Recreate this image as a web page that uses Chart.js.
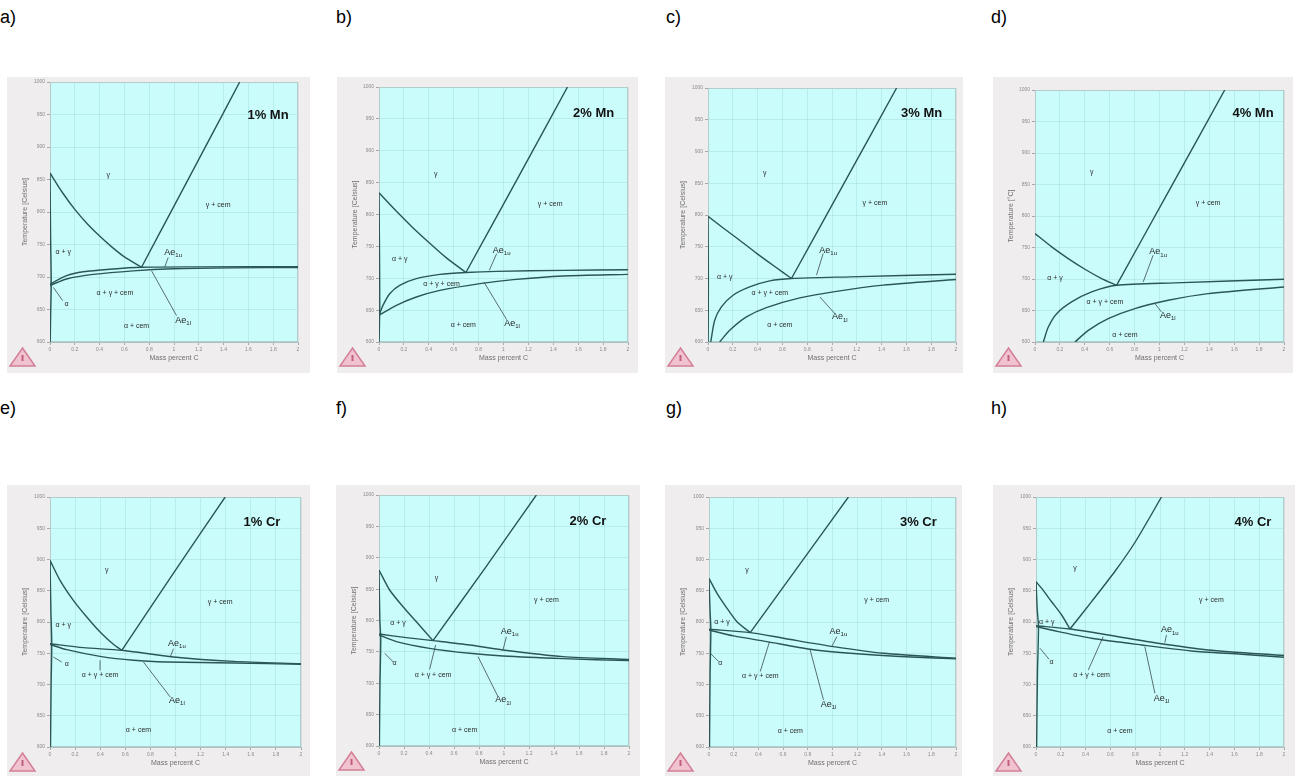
<!DOCTYPE html>
<html>
<head>
<meta charset="utf-8">
<script src="https://cdn.jsdelivr.net/npm/chart.js@4.4.1/dist/chart.umd.min.js"></script>
<style>
  body { margin: 0; width: 1301px; height: 776px; overflow: hidden; position: relative; background: #fff;
         font-family: Arial, "Liberation Sans", sans-serif; }
  .tag { position: absolute; font-size: 18px; line-height: 22px; color: #000; }
  .panel { position: absolute; background: #efeded; overflow: hidden; }
  .panel canvas { display: block; }
</style>
</head>
<body>
<script>
// ===== AXES (shared by all eight diagrams) =====
const carbonTicks = [0, 0.2, 0.4, 0.6, 0.8, 1, 1.2, 1.4, 1.6, 1.8, 2];
const tempTicks = [600, 650, 700, 750, 800, 850, 900, 950, 1000];

// ===== Fe-C-Mn, points are [mass % C, temperature] =====
const mn1A3 = [[0, 860], [0.1, 830], [0.2, 804], [0.3, 782], [0.4, 763], [0.5, 746], [0.6, 731], [0.738, 715]];
const mn1Acm = [[0.738, 715], [1.0, 809], [1.25, 899], [1.53, 1000]];
const mn1Ae1u = [[0, 689], [0.134, 702], [0.268, 708], [0.483, 712], [0.738, 715], [1.208, 715.6], [2, 716]];
const mn1Ae1 = [[0, 687], [0.134, 697], [0.349, 704], [0.671, 709.5], [0.993, 712.6], [1.477, 714.1], [2, 714.6]];
const mn1Alpha = [[0, 860], [0.005, 760], [0.01, 690], [0.005, 640], [0.002, 600]];

const mn2A3 = [[0, 834], [0.14, 805], [0.274, 779], [0.408, 755], [0.542, 732], [0.698, 709]];
const mn2Acm = [[0.698, 709], [1.106, 854], [1.514, 1000]];
const mn2Ae1u = [[0, 641.8], [0.032, 657.5], [0.086, 675.8], [0.166, 688.9], [0.3, 699.3], [0.489, 706.1], [0.698, 709], [0.945, 710.8], [1.482, 712.4], [2, 713.4]];
const mn2Ae1 = [[0, 641.8], [0.14, 657.5], [0.3, 670.6], [0.489, 681], [0.811, 691.5], [1.079, 697.8], [1.482, 703.5], [2, 706.1]];
const mn2Alpha = [[0, 834], [0.004, 740], [0.006, 660], [0.003, 620], [0.001, 600]];

const mn3A3 = [[0, 798], [0.12, 780], [0.25, 761], [0.39, 740], [0.53, 720], [0.673, 700]];
const mn3Acm = [[0.673, 700], [1.1, 851], [1.521, 1000]];
const mn3Ae1u = [[0.022, 600], [0.054, 634.2], [0.108, 655.3], [0.202, 673.7], [0.336, 686.8], [0.498, 696.3], [0.673, 700], [1.144, 702.6], [2, 706.8]];
const mn3Ae1 = [[0.094, 600], [0.175, 618.4], [0.31, 639.5], [0.471, 654.2], [0.74, 669.5], [1.01, 679], [1.413, 689.5], [2, 698.4]];
const mn3Alpha = [[0, 798], [0.003, 700], [0.001, 600]];

const mn4A3 = [[0, 772.2], [0.134, 751], [0.267, 732.4], [0.401, 715.5], [0.535, 700.7], [0.655, 690]];
const mn4Acm = [[0.655, 690], [1.09, 845], [1.524, 1000]];
const mn4Ae1u = [[0.067, 600], [0.107, 623.8], [0.174, 645], [0.294, 663.6], [0.455, 679.5], [0.655, 690], [1.123, 693.8], [2, 699.6]];
const mn4Ae1 = [[0.321, 600], [0.428, 618.5], [0.588, 637], [0.802, 653], [1.07, 666.2], [1.39, 676.8], [2, 687.4]];

// ===== Fe-C-Cr =====
const cr1A3 = [[0, 898.7], [0.08, 866.7], [0.186, 834.7], [0.293, 808], [0.399, 784], [0.505, 764.3], [0.572, 754.7]];
const cr1Acm = [[0.572, 754.7], [0.98, 877], [1.396, 1000]];
const cr1Ae1u = [[0, 765.3], [0.266, 759], [0.572, 754.7], [0.984, 744], [1.463, 737], [2, 733.3]];
const cr1Ae1 = [[0, 764], [0.133, 755.7], [0.399, 745], [0.665, 738.7], [0.93, 736], [1.463, 734.4], [2, 732.3]];
const cr1Alpha = [[0, 898.7], [0.007, 820], [0.014, 765], [0.009, 700], [0.004, 600]];

const cr2A3 = [[0, 880.5], [0.085, 848.6], [0.192, 822], [0.299, 798], [0.432, 767.9]];
const cr2Acm = [[0.432, 767.9], [0.85, 884], [1.259, 1000]];
const cr2Ae1u = [[0, 778.5], [0.219, 772.7], [0.432, 767.9], [0.725, 761], [0.992, 753], [1.472, 742.4], [2, 738.1]];
const cr2Ae1 = [[0, 776.9], [0.139, 766.3], [0.405, 755.6], [0.725, 747.7], [0.992, 743.4], [1.472, 739.2], [2, 736]];
const cr2Alpha = [[0, 880.5], [0.007, 800], [0.014, 770], [0.008, 700], [0.003, 600]];

const cr3A3 = [[0, 869.7], [0.065, 845.7], [0.146, 821.8], [0.226, 800.5], [0.334, 783]];
const cr3Acm = [[0.334, 783], [0.73, 891], [1.129, 1000]];
const cr3Ae1u = [[0, 788.3], [0.334, 783], [0.604, 774], [1.008, 760.6], [1.412, 750], [2, 742]];
const cr3Ae1 = [[0, 787.2], [0.2, 777.7], [0.469, 768.6], [0.819, 756.4], [1.143, 750], [1.547, 744.7], [2, 741]];
const cr3Alpha = [[0, 869.7], [0.008, 820], [0.015, 788], [0.009, 720], [0.004, 600]];

const cr4A3 = [[0, 864.4], [0.046, 853.7], [0.126, 832.4], [0.207, 811.2], [0.274, 788.8]];
const cr4Acm = [[0.274, 788.8], [0.45, 833], [0.64, 882], [0.8, 928], [1.012, 1000]];
const cr4Ae1u = [[0, 794.1], [0.274, 788.8], [0.583, 779.3], [0.985, 766], [1.388, 755.3], [2, 746.3]];
const cr4Ae1 = [[0, 792.6], [0.18, 784.6], [0.448, 774], [0.851, 763.3], [1.254, 753.7], [1.657, 748.4], [2, 743.6]];
const cr4Alpha = [[0, 864.4], [0.01, 820], [0.02, 792], [0.012, 720], [0.005, 600]];

// ===== PANELS =====
// box / area are page pixels: [left, top, width, height] and [left, top, right, bottom]
const panels = [
  { tag: 'a)', tagPos: [0, 6], title: '1% Mn', titleAt: [1.758, 949], box: [7, 77, 303, 296], area: [50, 80, 298, 342],
    yTitle: 'Temperature [Celsius]', curves: [mn1A3, mn1Acm, mn1Ae1u, mn1Ae1, mn1Alpha],
    labels: [
      { text: 'γ', x: 0.47, y: 857 }, { text: 'γ + cem', x: 1.356, y: 811 }, { text: 'α + γ', x: 0.107, y: 737.6 },
      { text: 'α + γ + cem', x: 0.524, y: 676 }, { text: 'α + cem', x: 0.698, y: 625 },
      { text: 'α', x: 0.134, y: 658.6, lead: [0.027, 684, 0.102, 663.7] },
      { text: 'Ae', sub: '1u', x: 0.993, y: 737.6, lead: [0.953, 729.9, 0.926, 715.6] },
      { text: 'Ae', sub: '1l', x: 1.074, y: 633, lead: [0.819, 709.5, 1.02, 640.7] }
    ] },
  { tag: 'b)', tagPos: [336, 6], title: '2% Mn', titleAt: [1.724, 958], box: [337, 77, 301, 296], area: [379, 87, 628, 342],
    yTitle: 'Temperature [Celsius]', curves: [mn2A3, mn2Acm, mn2Ae1u, mn2Ae1, mn2Alpha],
    labels: [
      { text: 'γ', x: 0.456, y: 864 }, { text: 'γ + cem', x: 1.375, y: 817 }, { text: 'α + γ', x: 0.166, y: 730.7 },
      { text: 'α + γ + cem', x: 0.502, y: 691.5 }, { text: 'α + cem', x: 0.677, y: 626 },
      { text: 'Ae', sub: '1u', x: 0.985, y: 743.8, lead: [0.945, 738.6, 0.886, 712.4] },
      { text: 'Ae', sub: '1l', x: 1.068, y: 628.7, lead: [0.843, 694, 1.026, 635] }
    ] },
  { tag: 'c)', tagPos: [666, 6], title: '3% Mn', titleAt: [1.723, 960.5], box: [665, 77, 298, 296], area: [708, 88, 956, 342],
    yTitle: 'Temperature [Celsius]', curves: [mn3A3, mn3Acm, mn3Ae1u, mn3Ae1, mn3Alpha],
    labels: [
      { text: 'γ', x: 0.458, y: 866 }, { text: 'γ + cem', x: 1.346, y: 818.4 }, { text: 'α + γ', x: 0.135, y: 702.6 },
      { text: 'α + γ + cem', x: 0.498, y: 676.3 }, { text: 'α + cem', x: 0.579, y: 626.3 },
      { text: 'Ae', sub: '1u', x: 0.969, y: 744.7, lead: [0.929, 739.5, 0.875, 705.3] },
      { text: 'Ae', sub: '1l', x: 1.063, y: 639.5, lead: [0.902, 671, 1.023, 644.7] }
    ] },
  { tag: 'd)', tagPos: [991, 6], title: '4% Mn', titleAt: [1.751, 962.9], box: [993, 77, 300, 296], area: [1035, 90, 1284, 342],
    yTitle: 'Temperature [°C]', curves: [mn4A3, mn4Acm, mn4Ae1u, mn4Ae1],
    labels: [
      { text: 'γ', x: 0.455, y: 870.2 }, { text: 'γ + cem', x: 1.39, y: 819.9 }, { text: 'α + γ', x: 0.16, y: 700.7 },
      { text: 'α + γ + cem', x: 0.561, y: 663.6 }, { text: 'α + cem', x: 0.722, y: 610.6 },
      { text: 'Ae', sub: '1u', x: 0.989, y: 743, lead: [0.949, 737.7, 0.869, 695.3] },
      { text: 'Ae', sub: '1l', x: 1.066, y: 642.4, lead: [0.963, 661, 1.016, 647.7] }
    ] },
  { tag: 'e)', tagPos: [0, 397], title: '1% Cr', titleAt: [1.689, 960], box: [7, 485, 303, 291], area: [50, 497, 301, 747],
    yTitle: 'Temperature [Celsius]', curves: [cr1A3, cr1Acm, cr1Ae1u, cr1Ae1, cr1Alpha],
    labels: [
      { text: 'γ', x: 0.452, y: 882.7 }, { text: 'γ + cem', x: 1.356, y: 832 }, { text: 'α + γ', x: 0.106, y: 794.7 },
      { text: 'α + γ + cem', x: 0.399, y: 714.7, lead: [0.399, 722.7, 0.399, 738.7] }, { text: 'α + cem', x: 0.705, y: 626.7 },
      { text: 'α', x: 0.133, y: 732.3, lead: [0.027, 744, 0.093, 736] },
      { text: 'Ae', sub: '1u', x: 1.011, y: 765.3, lead: [0.984, 757.3, 0.958, 744] },
      { text: 'Ae', sub: '1l', x: 1.011, y: 674.7, lead: [0.745, 736, 0.958, 680] }
    ] },
  { tag: 'f)', tagPos: [336, 397], title: '2% Cr', titleAt: [1.672, 957.5], box: [336, 485, 304, 291], area: [379, 495, 629, 746],
    yTitle: 'Temperature [Celsius]', curves: [cr2A3, cr2Acm, cr2Ae1u, cr2Ae1, cr2Alpha],
    labels: [
      { text: 'γ', x: 0.459, y: 867.2 }, { text: 'γ + cem', x: 1.339, y: 832.7 }, { text: 'α + γ', x: 0.152, y: 795.5 },
      { text: 'α + γ + cem', x: 0.432, y: 713.2, lead: [0.405, 722.2, 0.453, 761] }, { text: 'α + cem', x: 0.685, y: 625.5 },
      { text: 'α', x: 0.125, y: 731.8, lead: [0.045, 747.7, 0.112, 734.4] },
      { text: 'Ae', sub: '1u', x: 1.045, y: 782.2, lead: [1.019, 774.2, 0.992, 753] },
      { text: 'Ae', sub: '1l', x: 0.992, y: 673.3, lead: [0.792, 742.4, 0.952, 678.6] }
    ] },
  { tag: 'g)', tagPos: [666, 397], title: '3% Cr', titleAt: [1.695, 960.1], box: [665, 485, 297, 291], area: [709, 497, 956, 747],
    yTitle: 'Temperature [Celsius]', curves: [cr3A3, cr3Acm, cr3Ae1u, cr3Ae1, cr3Alpha],
    labels: [
      { text: 'γ', x: 0.307, y: 883 }, { text: 'γ + cem', x: 1.358, y: 835 }, { text: 'α + γ', x: 0.105, y: 800.5 },
      { text: 'α + γ + cem', x: 0.415, y: 712.8, lead: [0.415, 720.8, 0.49, 768.6] }, { text: 'α + cem', x: 0.658, y: 625 },
      { text: 'α', x: 0.092, y: 734, lead: [0.011, 750, 0.078, 736.7] },
      { text: 'Ae', sub: '1u', x: 1.048, y: 784.6, lead: [1.035, 776.6, 0.994, 760.6] },
      { text: 'Ae', sub: '1l', x: 0.968, y: 667.6, lead: [0.819, 755.3, 0.927, 675.5] }
    ] },
  { tag: 'h)', tagPos: [991, 397], title: '4% Cr', titleAt: [1.75, 960], box: [993, 485, 302, 291], area: [1036, 497, 1284, 747],
    yTitle: 'Temperature [Celsius]', curves: [cr4A3, cr4Acm, cr4Ae1u, cr4Ae1, cr4Alpha],
    labels: [
      { text: 'γ', x: 0.314, y: 885.6 }, { text: 'γ + cem', x: 1.415, y: 835 }, { text: 'α + γ', x: 0.086, y: 799.5 },
      { text: 'α + γ + cem', x: 0.448, y: 715.4, lead: [0.422, 723.4, 0.542, 776.6] }, { text: 'α + cem', x: 0.677, y: 625 },
      { text: 'α', x: 0.126, y: 736.7, lead: [0.032, 758, 0.105, 740.4] },
      { text: 'Ae', sub: '1u', x: 1.079, y: 787.2, lead: [1.052, 779.3, 1.039, 767] },
      { text: 'Ae', sub: '1l', x: 1.012, y: 678.2, lead: [0.878, 760.6, 0.959, 686] }
    ] }
];

const lineColor = '#2b5656';
const labelFont = '7px Arial, "Liberation Sans", sans-serif';

// draws plot background, frame, region labels, titles and logo
function makeDecor(p) {
  return {
    id: 'decor',
    beforeDraw(chart) {
      const { ctx, chartArea: a } = chart;
      ctx.save();
      ctx.fillStyle = '#cbfcfc';
      ctx.fillRect(a.left, a.top, a.right - a.left, a.bottom - a.top);
      ctx.restore();
    },
    beforeDatasetsDraw(chart) {
      const { ctx, chartArea: a } = chart;
      ctx.save();
      ctx.strokeStyle = '#b3cccc';
      ctx.lineWidth = 1;
      ctx.strokeRect(a.left + 0.5, a.top + 0.5, a.right - a.left - 1, a.bottom - a.top - 1);
      ctx.restore();
    },
    afterDatasetsDraw(chart) {
      const { ctx, chartArea: a, scales } = chart;
      const px = v => scales.x.getPixelForValue(v);
      const py = v => scales.y.getPixelForValue(v);
      ctx.save();
      ctx.textAlign = 'center';
      ctx.textBaseline = 'middle';

      p.labels.forEach(l => {
        if (l.lead) {
          ctx.strokeStyle = '#3a4a4a';
          ctx.lineWidth = 0.8;
          ctx.beginPath();
          ctx.moveTo(px(l.lead[0]), py(l.lead[1]));
          ctx.lineTo(px(l.lead[2]), py(l.lead[3]));
          ctx.stroke();
        }
        if (l.sub) {
          ctx.fillStyle = '#1e1e1e';
          ctx.font = '9px Arial, "Liberation Sans", sans-serif';
          const w = ctx.measureText(l.text).width;
          ctx.font = '6px Arial, "Liberation Sans", sans-serif';
          const ws = ctx.measureText(l.sub).width;
          const x0 = px(l.x) - (w + ws) / 2;
          ctx.textAlign = 'left';
          ctx.font = '9px Arial, "Liberation Sans", sans-serif';
          ctx.fillText(l.text, x0, py(l.y));
          ctx.font = '6px Arial, "Liberation Sans", sans-serif';
          ctx.fillText(l.sub, x0 + w, py(l.y) + 3);
          ctx.textAlign = 'center';
        } else {
          ctx.fillStyle = '#2a2a2a';
          ctx.font = labelFont;
          ctx.fillText(l.text, px(l.x), py(l.y));
        }
      });

      // alloy title
      ctx.fillStyle = '#111';
      ctx.font = 'bold 13px Arial, "Liberation Sans", sans-serif';
      ctx.fillText(p.title, px(p.titleAt[0]), py(p.titleAt[1]));

      // axis titles
      ctx.fillStyle = '#707070';
      ctx.font = '7px Arial, "Liberation Sans", sans-serif';
      ctx.fillText('Mass percent C', (a.left + a.right) / 2, a.bottom + 16);
      ctx.save();
      ctx.translate(18, (a.top + a.bottom) / 2);
      ctx.rotate(-Math.PI / 2);
      ctx.fillText(p.yTitle, 0, 0);
      ctx.restore();

      // small logo, bottom left
      const ty = a.bottom + 6;
      ctx.beginPath();
      ctx.moveTo(15.5, ty);
      ctx.lineTo(28, ty + 18);
      ctx.lineTo(3, ty + 18);
      ctx.closePath();
      ctx.fillStyle = '#f1c3cf';
      ctx.fill();
      ctx.strokeStyle = '#d27f98';
      ctx.lineWidth = 1.5;
      ctx.stroke();
      ctx.fillStyle = '#c06080';
      ctx.fillRect(14.5, ty + 7, 2, 6);
      ctx.restore();
    }
  };
}

function createPanel(p) {
  const tag = document.createElement('div');
  tag.className = 'tag';
  tag.style.left = p.tagPos[0] + 'px';
  tag.style.top = p.tagPos[1] + 'px';
  tag.textContent = p.tag;
  document.body.appendChild(tag);

  const [bx, by, bw, bh] = p.box;
  const [al, at, ar, ab] = p.area;
  const wrap = document.createElement('div');
  wrap.className = 'panel';
  wrap.style.left = bx + 'px';
  wrap.style.top = by + 'px';
  wrap.style.width = bw + 'px';
  wrap.style.height = bh + 'px';
  const canvas = document.createElement('canvas');
  canvas.width = bw;
  canvas.height = bh;
  wrap.appendChild(canvas);
  document.body.appendChild(wrap);

  const tickFont = { size: 5, family: 'Arial, "Liberation Sans", sans-serif' };

  return new Chart(canvas, {
    type: 'scatter',
    data: {
      datasets: p.curves.map(c => ({
        data: c.map(([x, y]) => ({ x, y })),
        showLine: true,
        pointRadius: 0,
        borderColor: lineColor,
        borderWidth: 1.4,
        tension: 0.25,
        fill: false
      }))
    },
    options: {
      responsive: false,
      animation: false,
      devicePixelRatio: 1,
      events: [],
      layout: { padding: { top: at - by, right: bx + bw - ar, left: 0, bottom: 0 } },
      plugins: { legend: { display: false }, tooltip: { enabled: false } },
      scales: {
        x: {
          type: 'linear', min: 0, max: 2,
          afterBuildTicks: s => { s.ticks = carbonTicks.map(v => ({ value: v })); },
          afterFit: s => { s.height = by + bh - ab; },
          ticks: { font: tickFont, color: '#8c8c8c', padding: 2, maxRotation: 0, autoSkip: false, callback: v => String(v) },
          grid: { color: 'rgba(0,120,120,0.10)', tickColor: '#a8a8a8', tickLength: 3 },
          border: { color: '#a9c2c2' }
        },
        y: {
          type: 'linear', min: 600, max: 1000,
          afterBuildTicks: s => { s.ticks = tempTicks.map(v => ({ value: v })); },
          afterFit: s => { s.width = al - bx; },
          ticks: { font: tickFont, color: '#8c8c8c', padding: 2, autoSkip: false, callback: v => String(v) },
          grid: { color: 'rgba(0,120,120,0.10)', tickColor: '#a8a8a8', tickLength: 3 },
          border: { color: '#a9c2c2' }
        }
      }
    },
    plugins: [makeDecor(p)]
  });
}

const charts = panels.map(createPanel);
console.log('Panels drawn:', charts.length);
</script>
</body>
</html>
